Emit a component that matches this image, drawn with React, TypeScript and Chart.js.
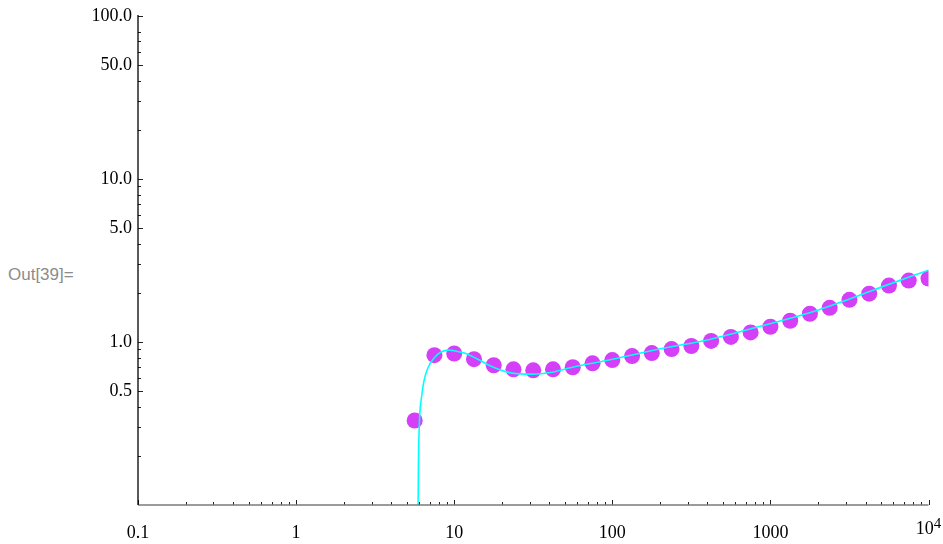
import React, { useEffect, useRef } from 'react';
import { Chart, registerables } from 'chart.js';

Chart.register(...registerables);

// ---- data ----
const pointX = [5.623, 7.499, 10, 13.34, 17.78, 23.71, 31.62, 42.17, 56.23, 74.99, 100, 133.4, 177.8, 237.1, 316.2, 421.7, 562.3, 749.9, 1000, 1334, 1778, 2371, 3162, 4217, 5623, 7499, 10000];
const pointY = [0.33, 0.83, 0.85, 0.785, 0.72, 0.68, 0.67, 0.68, 0.70, 0.74, 0.775, 0.82, 0.855, 0.905, 0.945, 1.015, 1.075, 1.145, 1.24, 1.35, 1.49, 1.62, 1.815, 1.98, 2.22, 2.38, 2.45];

const curveX = [5.88, 5.94, 6.0, 6.06, 6.21, 6.45, 6.85, 7.47, 8.24, 9.3, 10, 11.57, 13.2, 17.7, 23.3, 31.1, 41.7, 56.1, 100, 198, 411, 851, 1766, 3162, 5662, 10000];
const curveY = [0.05, 0.179, 0.286, 0.365, 0.457, 0.582, 0.70, 0.797, 0.868, 0.892, 0.884, 0.855, 0.81, 0.70, 0.644, 0.635, 0.653, 0.70, 0.783, 0.905, 1.036, 1.243, 1.51, 1.835, 2.265, 2.755];

const xTickValues = [0.1, 1, 10, 100, 1000, 10000];
const xTickLabels = ['0.1', '1', '10', '100', '1000', '10^4'];
const yTickValues = [0.5, 1, 5, 10, 50, 100];
const yTickLabels = ['0.5', '1.0', '5.0', '10.0', '50.0', '100.0'];

const xMinorTicks = [0.2, 0.3, 0.4, 0.5, 0.6, 0.7, 0.8, 0.9, 2, 3, 4, 5, 6, 7, 8, 9, 20, 30, 40, 50, 60, 70, 80, 90, 200, 300, 400, 500, 600, 700, 800, 900, 2000, 3000, 4000, 5000, 6000, 7000, 8000, 9000];
const yMinorTicks = [0.2, 0.3, 0.4, 0.6, 0.7, 0.8, 0.9, 2, 3, 4, 6, 7, 8, 9, 20, 30, 40, 60, 70, 80];

const outLabel = 'Out[39]=';

const serif = '"Liberation Serif", "DejaVu Serif", serif';

export default function App() {
  const ref = useRef<HTMLCanvasElement>(null);

  useEffect(() => {
    if (!ref.current) return;

    const axesPlugin = {
      id: 'mmaAxes',
      afterDatasetsDraw(chart: any) {
        const { ctx, chartArea: a, scales } = chart;
        const xs = scales.x;
        const ys = scales.y;
        ctx.save();
        ctx.strokeStyle = '#222';
        ctx.lineWidth = 1;
        ctx.beginPath();
        xTickValues.forEach((v) => {
          const px = Math.round(xs.getPixelForValue(v)) + 0.5;
          ctx.moveTo(px, a.bottom);
          ctx.lineTo(px, a.bottom - 5);
        });
        xMinorTicks.forEach((v) => {
          const px = Math.round(xs.getPixelForValue(v)) + 0.5;
          ctx.moveTo(px, a.bottom);
          ctx.lineTo(px, a.bottom - 3);
        });
        yTickValues.forEach((v) => {
          const py = Math.round(ys.getPixelForValue(v)) + 0.5;
          ctx.moveTo(a.left, py);
          ctx.lineTo(a.left + 5, py);
        });
        yMinorTicks.forEach((v) => {
          const py = Math.round(ys.getPixelForValue(v)) + 0.5;
          ctx.moveTo(a.left, py);
          ctx.lineTo(a.left + 3, py);
        });
        ctx.stroke();
        ctx.strokeStyle = '#7a7a7a';
        ctx.lineWidth = 1.5;
        ctx.beginPath();
        ctx.moveTo(a.left, a.bottom);
        ctx.lineTo(a.right, a.bottom);
        ctx.stroke();
        ctx.strokeStyle = '#000';
        ctx.lineWidth = 1.3;
        ctx.beginPath();
        ctx.moveTo(a.left, a.top - 1);
        ctx.lineTo(a.left, a.bottom);
        ctx.stroke();

        // power-of-ten tick labels with a superscript exponent
        ctx.fillStyle = '#000';
        ctx.textBaseline = 'alphabetic';
        ctx.textAlign = 'left';
        xTickLabels.forEach((lab, i) => {
          if (!lab.includes('^')) return;
          const [base, exp] = lab.split('^');
          const px = xs.getPixelForValue(xTickValues[i]);
          ctx.font = `18px ${serif}`;
          const wb = ctx.measureText(base).width;
          ctx.font = `15px ${serif}`;
          const we = ctx.measureText(exp).width;
          const start = px - (wb + we) / 2;
          ctx.font = `18px ${serif}`;
          ctx.fillText(base, start, a.bottom + 28.5);
          ctx.font = `15px ${serif}`;
          ctx.fillText(exp, start + wb, a.bottom + 23);
        });
        ctx.restore();
      },
    };

    const chart = new Chart(ref.current, {
      type: 'scatter',
      data: {
        datasets: [
          {
            label: 'fit',
            data: curveX.map((x, i) => ({ x, y: curveY[i] })),
            showLine: true,
            borderColor: '#00ffff',
            borderWidth: 1.6,
            pointRadius: 0,
            pointHoverRadius: 0,
            cubicInterpolationMode: 'monotone',
            fill: false,
          },
          {
            label: 'data',
            data: pointX.map((x, i) => ({ x, y: pointY[i] })),
            showLine: false,
            backgroundColor: '#d43ff7',
            borderWidth: 0,
            pointRadius: 8,
            pointHoverRadius: 8,
          },
        ],
      },
      options: {
        animation: false,
        responsive: false,
        devicePixelRatio: 1,
        events: [],
        layout: { padding: { top: 16, right: 14.5, left: 0, bottom: 0 } },
        plugins: {
          legend: { display: false },
          tooltip: { enabled: false },
        },
        scales: {
          x: {
            type: 'logarithmic',
            min: 0.1,
            max: 10000,
            grid: { display: false, drawTicks: false },
            border: { display: false },
            afterBuildTicks: (scale: any) => {
              scale.ticks = xTickValues.map((v) => ({ value: v }));
            },
            afterFit: (scale: any) => {
              scale.height = 39;
              scale.paddingLeft = 0;
              scale.paddingRight = 0;
            },
            ticks: {
              autoSkip: false,
              maxRotation: 0,
              minRotation: 0,
              padding: 17,
              color: '#000',
              font: { family: serif, size: 18 },
              callback: (_v: any, i: number) => (xTickLabels[i].includes('^') ? '' : xTickLabels[i]),
            },
          },
          y: {
            type: 'logarithmic',
            min: 0.1,
            max: 100,
            grid: { display: false, drawTicks: false },
            border: { display: false },
            afterBuildTicks: (scale: any) => {
              scale.ticks = yTickValues.map((v) => ({ value: v }));
            },
            afterFit: (scale: any) => {
              scale.width = 138;
              scale.paddingTop = 0;
              scale.paddingBottom = 0;
            },
            ticks: {
              autoSkip: false,
              padding: 6,
              color: '#000',
              font: { family: serif, size: 18 },
              callback: (_v: any, i: number) => yTickLabels[i],
            },
          },
        },
      },
      plugins: [axesPlugin],
    } as any);

    return () => chart.destroy();
  }, []);

  return (
    <div style={{ position: 'fixed', left: 0, top: 0, width: 943, height: 544, background: '#fff', overflow: 'hidden' }}>
      <div
        style={{
          position: 'absolute',
          left: 8,
          top: 265,
          fontFamily: '"Liberation Sans", Arial, sans-serif',
          fontSize: 17,
          lineHeight: '20px',
          color: '#8c8c8c',
          whiteSpace: 'nowrap',
        }}
      >
        {outLabel}
      </div>
      <canvas ref={ref} width={943} height={544} style={{ position: 'absolute', left: 0, top: 0, width: 943, height: 544 }} />
    </div>
  );
}
